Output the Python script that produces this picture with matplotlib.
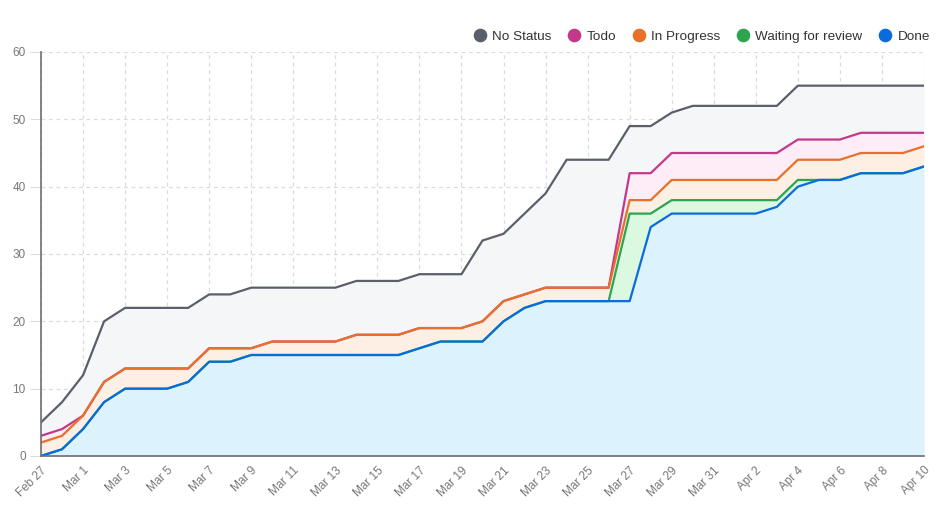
import matplotlib
matplotlib.use("Agg")
import matplotlib.pyplot as plt
from matplotlib.lines import Line2D
import numpy as np
import pandas as pd

plt.rcParams["font.family"] = ["Liberation Sans", "DejaVu Sans"]

dates = pd.date_range("2023-02-27", "2023-04-10", freq="D")
date_labels = [d.strftime("%b ") + str(d.day) for d in dates]

series_names = ["No Status", "Todo", "In Progress", "Waiting for review", "Done"]

done = [0, 1, 4, 8, 10, 10, 10, 11, 14, 14, 15, 15, 15, 15, 15, 15, 15, 15, 16, 17, 17,
        17, 20, 22, 23, 23, 23, 23, 23, 34, 36, 36, 36, 36, 36, 37, 40, 41, 41, 42, 42, 42, 43]
waiting = [0] * 28 + [13, 2, 2, 2, 2, 2, 2, 1, 1, 0, 0, 0, 0, 0, 0]
in_progress = [2, 2, 2, 3, 3, 3, 3, 2, 2, 2, 1, 2, 2, 2, 2, 3, 3, 3, 3, 2, 2,
               3, 3, 2, 2, 2, 2, 2, 2, 2, 3, 3, 3, 3, 3, 3, 3, 3, 3, 3, 3, 3, 3]
todo = [1, 1] + [0] * 26 + [4, 4, 4, 4, 4, 4, 4, 4, 3, 3, 3, 3, 3, 3, 2]
no_status = [2, 4, 6, 9, 9, 9, 9, 9, 8, 8, 9, 8, 8, 8, 8, 8, 8, 8, 8, 8, 8,
             12, 10, 12, 14, 19, 19, 19, 7, 7, 6, 7, 7, 7, 7, 7, 8, 8, 8, 7, 7, 7, 7]

line_colors = {"No Status": "#59606b", "Todo": "#c2398b", "In Progress": "#e7702a",
               "Waiting for review": "#2da44e", "Done": "#0a6cdb"}
fill_colors = {"No Status": "#f5f6f8", "Todo": "#feedf6", "In Progress": "#fdefe3",
               "Waiting for review": "#dbf8e0", "Done": "#dcf2fc"}

x = np.arange(len(dates))
# stacking order from bottom: Done, Waiting, In Progress, Todo, No Status
stack_order = [("Done", done), ("Waiting for review", waiting), ("In Progress", in_progress),
               ("Todo", todo), ("No Status", no_status)]

fig = plt.figure(figsize=(9.5, 5.17), dpi=100)
ax = fig.add_axes([41 / 950, 1 - 456 / 517, (924 - 41) / 950, (456 - 52) / 517])

lower = np.zeros(len(x))
tops = {}
for name, vals in stack_order:
    upper = lower + np.array(vals, dtype=float)
    ax.fill_between(x, lower, upper, color=fill_colors[name], linewidth=0, zorder=1)
    tops[name] = upper.copy()
    lower = upper

z = 3
for name in ["No Status", "Todo", "In Progress", "Waiting for review", "Done"]:
    ax.plot(x, tops[name], color=line_colors[name], linewidth=1.6, zorder=z, solid_joinstyle="round")
    z += 1

ax.set_xlim(0, len(x) - 1)
ax.set_ylim(0, 60)
ax.set_yticks(np.arange(0, 61, 10))
ax.set_xticks(x[::2])
ax.set_xticklabels([date_labels[i] for i in x[::2]], rotation=45, ha="right",
                   va="top", rotation_mode="anchor")

ax.grid(True, color="#dcdcdc", linestyle=(0, (3, 3)), linewidth=0.9, zorder=0)
ax.set_axisbelow(True)
for s in ["top", "right"]:
    ax.spines[s].set_visible(False)
for s in ["left", "bottom"]:
    ax.spines[s].set_color("#6b6f76")
    ax.spines[s].set_linewidth(1.2)
    ax.spines[s].set_zorder(10)

ax.tick_params(axis="y", length=8, color="#dcdcdc", labelsize=8.5, labelcolor="#777777", pad=3)
ax.tick_params(axis="x", length=0, labelsize=8.5, labelcolor="#777777", pad=6)

handles = [Line2D([], [], marker="o", linestyle="none", markersize=8.8,
                  markerfacecolor=line_colors[n], markeredgecolor=line_colors[n]) for n in series_names]
fig.legend(handles, series_names, loc="upper right", bbox_to_anchor=(942 / 950, 1 - 18 / 517),
           ncol=5, frameon=False, fontsize=9.7, handletextpad=0.4, columnspacing=1.2,
           handlelength=1.0, labelcolor="#333333")

fig.savefig("out.png", dpi=100)
